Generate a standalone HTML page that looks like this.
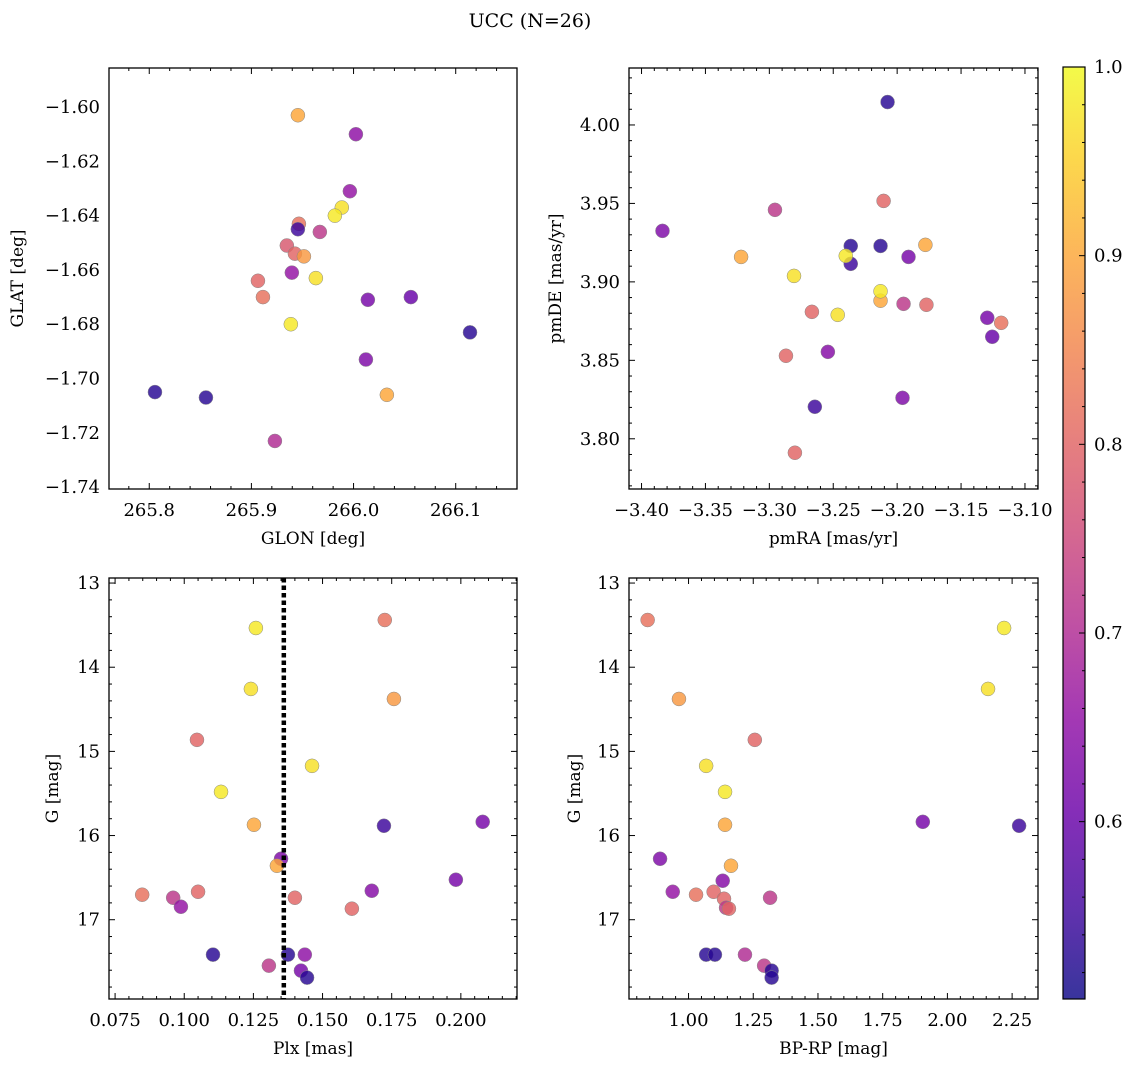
<!DOCTYPE html>
<html><head><meta charset="utf-8">
<style>
body{margin:0;background:#fff;}
svg{display:block;font-family:"DejaVu Serif","Liberation Serif",serif;}
</style></head>
<body>
<svg id="fig" width="1136" height="1067" viewBox="0 0 1136 1067">
<defs>
<linearGradient id="cbgrad" x1="0" y1="1" x2="0" y2="0">
<stop offset="0" stop-color="#0d0887"/><stop offset="0.1" stop-color="#41049d"/><stop offset="0.2" stop-color="#6a00a8"/><stop offset="0.3" stop-color="#8f0da4"/><stop offset="0.4" stop-color="#b12a90"/><stop offset="0.5" stop-color="#cc4778"/><stop offset="0.6" stop-color="#e16462"/><stop offset="0.7" stop-color="#f2844b"/><stop offset="0.8" stop-color="#fca636"/><stop offset="0.9" stop-color="#fcce25"/><stop offset="1" stop-color="#f0f921"/>
</linearGradient>
</defs>
<text x="530" y="27" font-size="19" text-anchor="middle">UCC (N=26)</text>
</svg>
<script>
// Panel 1: GLON / GLAT / prob
const p1x=[265.9455,266.0023,265.9964,265.9885,265.9817,265.9465,265.9455,265.9670,265.9347,265.9426,265.9514,265.9396,265.9631,265.9064,265.9113,266.0140,266.0561,265.9386,266.1140,266.0121,265.8056,265.8555,266.0326,265.9230];
const p1y=[-1.603,-1.610,-1.631,-1.637,-1.640,-1.643,-1.645,-1.646,-1.651,-1.654,-1.655,-1.661,-1.663,-1.664,-1.670,-1.671,-1.670,-1.680,-1.683,-1.693,-1.705,-1.707,-1.706,-1.723];
const p1c=[0.90,0.65,0.66,0.97,0.98,0.82,0.55,0.72,0.78,0.80,0.88,0.66,0.97,0.80,0.82,0.62,0.60,0.98,0.53,0.63,0.53,0.53,0.90,0.70];
// Panel 2: pmRA / pmDE / prob
const p2x=[-3.2075,-3.3836,-3.2956,-3.2106,-3.2363,-3.2130,-3.1779,-3.3221,-3.2363,-3.2402,-3.1911,-3.2807,-3.2130,-3.2130,-3.1950,-3.1771,-3.2465,-3.2667,-3.1295,-3.1186,-3.1256,-3.2542,-3.2870,-3.1958,-3.2644,-3.2800];
const p2y=[4.0146,3.9325,3.9459,3.9516,3.9229,3.9229,3.9236,3.9159,3.9115,3.9166,3.9159,3.9038,3.8880,3.8940,3.8860,3.8854,3.8790,3.8809,3.8771,3.8739,3.8650,3.8554,3.8529,3.8261,3.8204,3.7911];
const p2c=[0.53,0.63,0.72,0.80,0.53,0.53,0.90,0.90,0.55,0.98,0.62,0.97,0.90,0.98,0.72,0.80,0.97,0.80,0.62,0.82,0.60,0.64,0.80,0.63,0.55,0.80];
// Panel 3: Plx / G / prob
const p3x=[0.1259,0.1725,0.1241,0.1758,0.1046,0.1462,0.1133,0.1252,0.1722,0.2079,0.1350,0.1335,0.0848,0.0960,0.1050,0.0988,0.1400,0.1678,0.1606,0.1982,0.1104,0.1375,0.1436,0.1306,0.1422,0.1444];
const p3y=[13.534,13.439,14.258,14.377,14.863,15.172,15.481,15.872,15.884,15.837,16.276,16.359,16.703,16.739,16.668,16.846,16.739,16.656,16.869,16.525,17.415,17.415,17.415,17.546,17.605,17.688];
const p3c=[0.98,0.82,0.97,0.88,0.80,0.97,0.98,0.90,0.55,0.62,0.63,0.90,0.82,0.72,0.80,0.66,0.80,0.64,0.80,0.62,0.53,0.53,0.65,0.72,0.62,0.53];
const plxLine=0.136;
// Panel 4: BP-RP / G / prob
const p4x=[0.842,2.219,2.157,0.963,1.256,1.068,1.141,1.141,2.277,1.905,0.890,1.164,1.029,1.132,1.097,0.939,1.137,1.145,1.156,1.315,1.068,1.102,1.218,1.292,1.321,1.321];
const p4y=[13.439,13.534,14.258,14.377,14.863,15.172,15.481,15.872,15.884,15.837,16.276,16.359,16.703,16.537,16.668,16.668,16.751,16.858,16.869,16.739,17.415,17.415,17.415,17.546,17.605,17.688];
const p4c=[0.82,0.98,0.97,0.88,0.80,0.97,0.98,0.90,0.55,0.62,0.63,0.90,0.82,0.64,0.80,0.66,0.80,0.72,0.80,0.72,0.53,0.53,0.70,0.72,0.53,0.53];
// tick labels
const t1x=[265.8,265.9,266.0,266.1], t1y=[-1.60,-1.62,-1.64,-1.66,-1.68,-1.70,-1.72,-1.74];
const t2x=[-3.40,-3.35,-3.30,-3.25,-3.20,-3.15,-3.10], t2y=[3.80,3.85,3.90,3.95,4.00];
const t3x=[0.075,0.100,0.125,0.150,0.175,0.200], tGy=[13,14,15,16,17];
const t4x=[1.00,1.25,1.50,1.75,2.00,2.25];
const tcb=[0.6,0.7,0.8,0.9,1.0];

const NS='http://www.w3.org/2000/svg';
const svg=document.getElementById('fig');
function mk(tag,attrs,parent){const e=document.createElementNS(NS,tag);for(const k in attrs)e.setAttribute(k,attrs[k]);(parent||svg).appendChild(e);return e;}
const stops=['#0d0887','#41049d','#6a00a8','#8f0da4','#b12a90','#cc4778','#e16462','#f2844b','#fca636','#fcce25','#f0f921'];
function hex(h){return [parseInt(h.substr(1,2),16),parseInt(h.substr(3,2),16),parseInt(h.substr(5,2),16)];}
const cmin=0.506,cmax=1.0;
function cmap(v){let t=(v-cmin)/(cmax-cmin);t=Math.max(0,Math.min(1,t));const f=t*10,i=Math.min(9,Math.floor(f)),r=f-i;const a=hex(stops[i]),b=hex(stops[i+1]);return 'rgb('+a.map((x,k)=>Math.round(x+(b[k]-x)*r)).join(',')+')';}
function fmt(v,d){const s=Math.abs(v).toFixed(d);return (v<0?'\u2212':'')+s;}

function panel(o){
  const g=mk('g',{});
  
  
  const X=v=>o.L+(v-o.x0)/(o.x1-o.x0)*(o.R-o.L);
  const Y=v=>o.yinv? o.T+(v-o.y0)/(o.y1-o.y0)*(o.B-o.T) : o.B-(v-o.y0)/(o.y1-o.y0)*(o.B-o.T);
  for(let i=0;i<o.xs.length;i++){
    const c=mk('circle',{cx:X(o.xs[i]),cy:Y(o.ys[i]),r:7,fill:cmap(o.cs[i]),'fill-opacity':0.82,stroke:'#888','stroke-width':0.5},g);
    
    
  }
  if(o.vline!==undefined){
    const l=mk('line',{x1:X(o.vline),x2:X(o.vline),y1:o.T,y2:o.B,stroke:'#000','stroke-width':4.5,'stroke-dasharray':'4.5 3'},g);
    
    
  }
  const f=mk('rect',{x:o.L,y:o.T,width:o.R-o.L,height:o.B-o.T,fill:'none',stroke:'#000','stroke-width':1.3},g);
  
  
  const step=o.tx[1]-o.tx[0], mstep=step/o.mx;
  for(let v=o.tx[0]-step*3;v<=o.x1+1e-9;v+=mstep){if(v<o.x0-1e-9)continue;const x=X(v);const isM=o.tx.some(t=>Math.abs(t-v)<mstep/10);const len=isM?6:3;
    mk('line',{x1:x,x2:x,y1:o.B,y2:o.B-len,stroke:'#000','stroke-width':1},g);mk('line',{x1:x,x2:x,y1:o.T,y2:o.T+len,stroke:'#000','stroke-width':1},g);}
  const ystep=o.ty[1]-o.ty[0], ymstep=ystep/o.my;
  const ylo=Math.min(o.y0,o.y1), yhi=Math.max(o.y0,o.y1);
  for(let v=o.ty[0]-ystep*3;v<=yhi+1e-9;v+=ymstep){if(v<ylo-1e-9)continue;const y=Y(v);const isM=o.ty.some(t=>Math.abs(t-v)<ymstep/10);const len=isM?6:3;
    mk('line',{x1:o.L,x2:o.L+len,y1:y,y2:y,stroke:'#000','stroke-width':1},g);mk('line',{x1:o.R,x2:o.R-len,y1:y,y2:y,stroke:'#000','stroke-width':1},g);}
  o.tx.forEach(v=>{const t=mk('text',{x:X(v),y:o.B+27,'font-size':18,'text-anchor':'middle'},g);t.textContent=fmt(v,o.dx);
    });
  o.ty.forEach(v=>{const t=mk('text',{x:o.L-9,y:Y(v)+6,'font-size':18,'text-anchor':'end'},g);t.textContent=fmt(v,o.dy);
    });
  const xl=mk('text',{x:(o.L+o.R)/2,y:o.B+55,'font-size':17,'text-anchor':'middle'},g);xl.textContent=o.xlab;
  
  const yl=mk('text',{x:0,y:0,'font-size':17,'text-anchor':'middle',transform:'translate('+o.ylx+','+((o.T+o.B)/2)+') rotate(-90)'},g);yl.textContent=o.ylab;
  
}

panel({name:'glon-glat-panel',L:109,R:517,T:68,B:489,x0:265.7606,x1:266.16,y0:-1.7407,y1:-1.5856,xs:p1x,ys:p1y,cs:p1c,tx:t1x,ty:t1y,mx:5,my:4,dx:1,dy:2,xlab:'GLON [deg]',ylab:'GLAT [deg]',ylx:23});
panel({name:'pm-panel',L:629,R:1038,T:68,B:489,x0:-3.4098,x1:-3.0898,y0:3.768,y1:4.0363,xs:p2x,ys:p2y,cs:p2c,tx:t2x,ty:t2y,mx:5,my:5,dx:2,dy:2,xlab:'pmRA [mas/yr]',ylab:'pmDE [mas/yr]',ylx:561});
panel({name:'plx-g-panel',L:109,R:517,T:578,B:999,x0:0.0728,x1:0.2203,y0:12.94,y1:17.942,yinv:true,xs:p3x,ys:p3y,cs:p3c,tx:t3x,ty:tGy,mx:5,my:5,dx:3,dy:0,xlab:'Plx [mas]',ylab:'G [mag]',ylx:58,vline:plxLine});
panel({name:'cmd-panel',L:629,R:1038,T:578,B:999,x0:0.770,x1:2.35,y0:12.94,y1:17.942,yinv:true,xs:p4x,ys:p4y,cs:p4c,tx:t4x,ty:tGy,mx:5,my:5,dx:2,dy:0,xlab:'BP-RP [mag]',ylab:'G [mag]',ylx:580});

const cb=mk('g',{});


const cT=67,cB=999,cL=1063,cR=1085;
const CY=v=>cB-(v-cmin)/(cmax-cmin)*(cB-cT);
mk('rect',{x:cL,y:cT,width:cR-cL,height:cB-cT,fill:'url(#cbgrad)','fill-opacity':0.82,stroke:'#000','stroke-width':1.2},cb);
for(let v=0.52;v<=1.0001;v+=0.02){const y=CY(v);const isM=tcb.some(t=>Math.abs(t-v)<0.005);mk('line',{x1:cR,x2:cR-(isM?6:3),y1:y,y2:y,stroke:'#000','stroke-width':1},cb);}
tcb.forEach(v=>{const t=mk('text',{x:cR+9,y:CY(v)+6,'font-size':18},cb);t.textContent=v.toFixed(1);
  });
</script>
</body></html>
